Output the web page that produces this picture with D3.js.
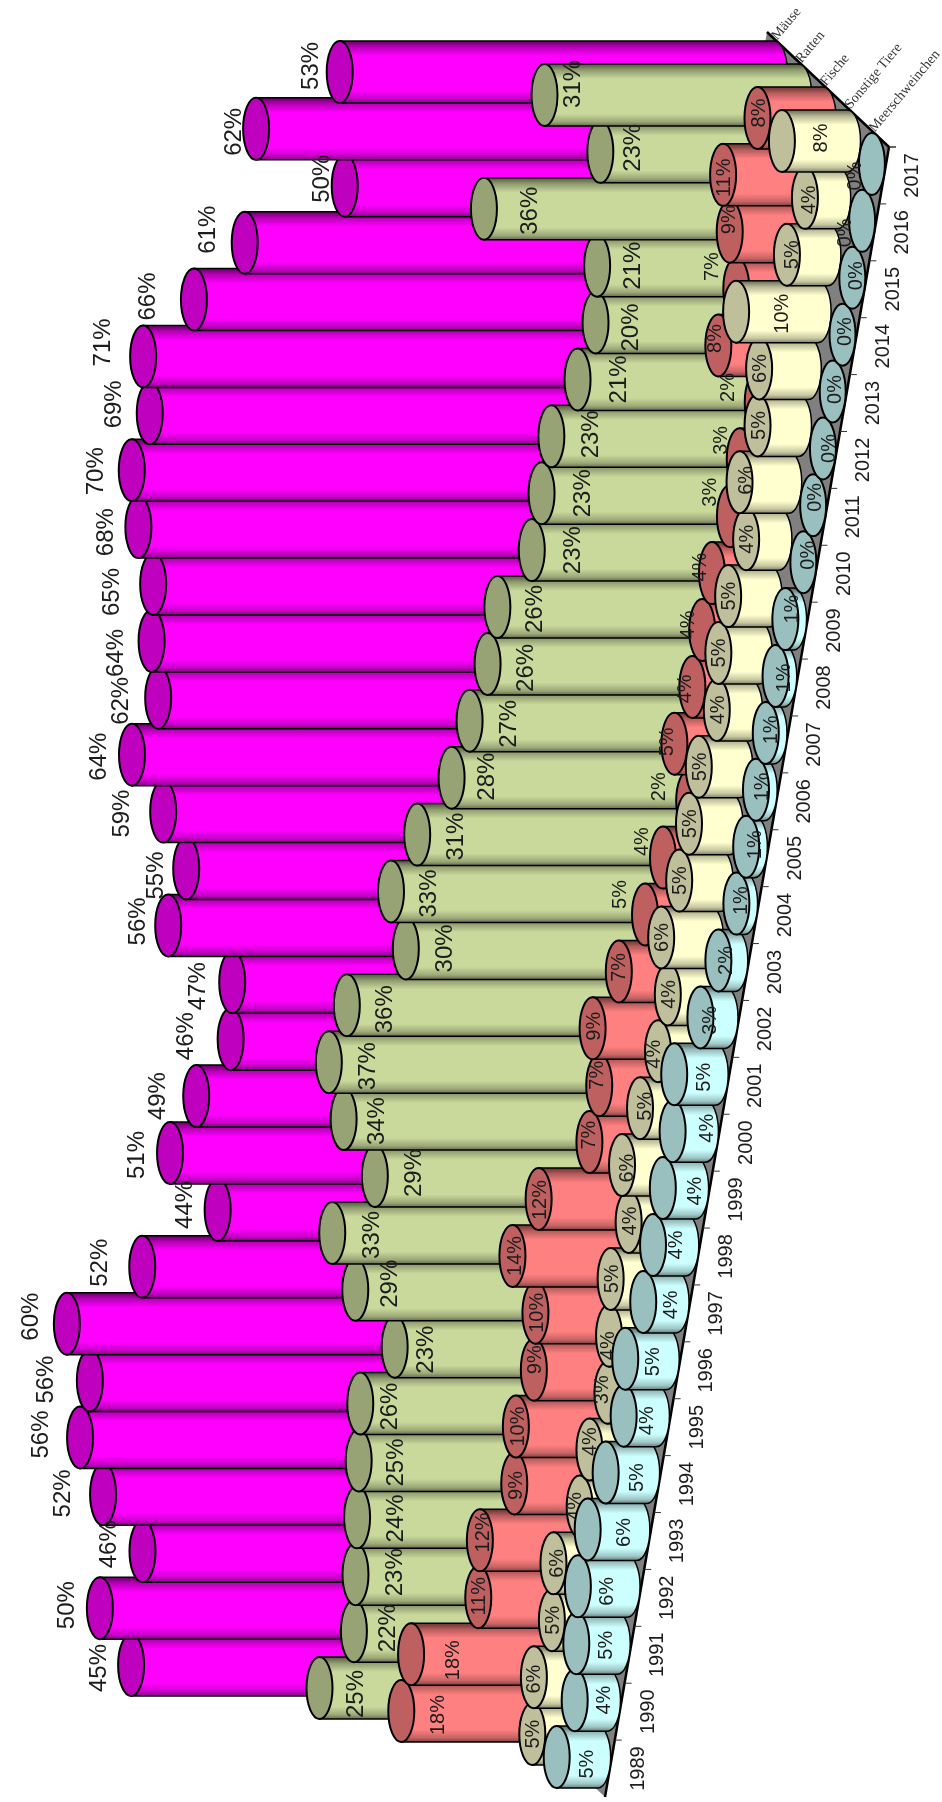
<!DOCTYPE html>
<html>
<head>
<meta charset="utf-8">
<script src="https://cdn.jsdelivr.net/npm/d3@7/dist/d3.min.js"></script>
<style>
    body { margin: 0; background: #fff; }
    text { font-family: "Liberation Sans", Arial, sans-serif; fill: #1c1c1c; }
</style>
</head>
<body>
<svg id="chart" width="942" height="1802"></svg>
<script>
const years = d3.range(1989, 2018).map(String);
const seriesNames = ["Mäuse", "Ratten", "Fische", "Sonstige Tiere", "Meerschweinchen"];

const maeuse = [45, 50, 46, 52, 56, 56, 60, 52, 44, 51, 49, 46, 47, 56, 55, 59, 64, 62, 64, 65, 68, 70, 69, 71, 66, 61, 50, 62, 53];
const ratten = [25, 22, 23, 24, 25, 26, 23, 29, 33, 29, 34, 37, 36, 30, 33, 31, 28, 27, 26, 26, 23, 23, 23, 21, 20, 21, 36, 23, 31];
const fische = [18, 18, 11, 12, 9, 10, 9, 10, 14, 12, 7, 7, 9, 7, 5, 4, 2, 5, 4, 4, 4, 3, 3, 2, 8, 7, 9, 11, 8];
const sonstige = [5, 6, 5, 6, 4, 4, 3, 4, 5, 4, 6, 5, 4, 4, 6, 5, 5, 5, 4, 5, 5, 4, 6, 5, 6, 10, 5, 4, 8];
const meerschweinchen = [5, 4, 5, 6, 6, 5, 4, 5, 4, 4, 4, 4, 5, 3, 2, 1, 1, 1, 1, 1, 1, 0, 0, 0, 0, 0, 0, 0, 0];

const seriesValues = [maeuse, ratten, fische, sonstige, meerschweinchen];
const seriesColors = ["#ff00ff", "#c9d99b", "#ff8080", "#ffffcf", "#ccffff"];

// the labels in the picture were placed by hand, so this is the shift from each cylinder end, per year
const labelDx = [
    [-34, -34, -35, -41, -40, -45, -37, -44, -34, -34, -40, -46, -36, -32, -32, -43, -34, -39, -37, -43, -34, -37, -37, -42, -47, -38, -24, -24, -30],
    [35, 33, 38, 38, 36, 28, 30, 33, 38, 38, 32, 38, 37, 38, 37, 37, 34, 38, 37, 36, 40, 40, 38, 40, 34, 34, 45, 31, 27],
    [36, 41, 0, 2, 1, 1, 0, 1, 2, 0, -1, -3, 0, -1, -26, -22, -31, -8, -8, -15, -13, -21, -20, -31, -4, -25, -2, 0, 0],
    [0, -1, 0, 3, -6, 0, -6, -2, 0, 0, 4, 4, -5, 0, 0, 0, 0, 0, 0, 0, 0, 0, 5, 0, 0, 45, 4, 3, 38],
    [29, 28, 29, 28, 35, 30, 22, 27, 27, 22, 31, 33, 29, 9, 7, 4, 8, 5, 4, 7, 6, 4, 1, 5, 1, 1, 3, -18, -18]
];
const labelDy = [
    [3, -3, -7, -1, -3, -1, -7, -4, -5, 2, 0, -3, 4, -4, 7, 2, 2, 3, 12, 8, 5, 1, -9, -14, -3, -13, -7, 3, -6],
    [6, -3, -2, 1, 2, 3, 3, -6, 2, -3, 2, 4, 4, 0, 2, 2, -1, 3, 4, 2, 0, 0, -2, 0, 5, 0, 2, -4, -11],
    [4, 6, -1, -8, 2, 0, -10, 0, 0, 1, -7, -10, -2, -4, -20, -16, -14, -2, 2, -5, -6, -24, -19, -15, -7, -22, -12, 3, -5],
    [0, 2, 0, 0, 0, -8, -3, 10, 0, -1, 3, -2, 3, 0, 0, 0, 0, 0, 0, 0, 0, 0, -2, 0, 0, 2, 0, 2, -3],
    [7, 0, 2, 5, 3, 5, 5, 3, 3, 0, 3, -3, 3, 3, 0, -3, -2, -3, -3, 2, -10, -7, -8, 0, -2, -3, -2, 12, 12]
];

const svg = d3.select("svg#chart");

const root = svg.append("g").attr("filter", "url(#soft)");

// the floor is a slanted plane, one edge runs along the years, the other one goes back through the series
const yearY = d3.scaleBand().domain(years).range([1797, 147]);
const edgeX = d3.scaleLinear().domain([1797, 147]).range([605, 889]);
const depth = d3.scaleBand().domain(seriesNames.slice().reverse()).range([0, 1]);
const depthDx = 122, depthDy = 115;
const valueLen = d3.scaleLinear().domain([0, 100]).range([0, 820]);

const rx = 13, ry = 31;

function basePoint(year, name) {
    const y = yearY(year) + yearY.bandwidth() / 2;
    const d = depth(name) + depth.bandwidth() / 2;
    return [edgeX(y) - d * depthDx, y - d * depthDy];
}

function darker(color, k) {
    const c = d3.rgb(color);
    return d3.rgb(c.r * k, c.g * k, c.b * k).formatHex();
}

const defs = svg.append("defs");

// the reference is a scaled bitmap, everything in it is a bit soft
defs.append("filter")
    .attr("id", "soft")
    .attr("filterUnits", "userSpaceOnUse")
    .attr("x", 0).attr("y", 0).attr("width", 942).attr("height", 1802)
    .append("feGaussianBlur")
        .attr("stdDeviation", 0.45);

// gradients for the cylinder walls
seriesNames.forEach((name, i) => {
    const grad = defs.append("linearGradient")
        .attr("id", "wall" + i)
        .attr("x1", 0).attr("y1", 0).attr("x2", 0).attr("y2", 1);
    [[0, 0.4], [0.1, 0.72], [0.24, 1], [0.8, 1], [0.93, 0.78], [1, 0.5]].forEach(([o, k]) => {
        grad.append("stop").attr("offset", o).attr("stop-color", darker(seriesColors[i], k));
    });
});

// floor
const corners = [
    [edgeX(1797), 1797],
    [edgeX(147), 147],
    [edgeX(147) - depthDx, 147 - depthDy],
    [edgeX(1797) - depthDx, 1797 - depthDy]
];
root.append("path")
    .attr("d", d3.line()(corners) + "Z")
    .attr("fill", "#808080");
root.append("path")
    .attr("d", d3.line()([corners[0], corners[1], corners[2]]))
    .attr("fill", "none")
    .attr("stroke", "#000")
    .attr("stroke-width", 2.5);

// year axis, built on a straight scale and then sheared along the floor edge
const axis = root.append("g")
    .call(d3.axisRight(yearY).tickSize(0))
    .call(g => g.select(".domain").remove());
axis.selectAll(".tick")
    .attr("transform", d => {
        const y = yearY(d) + yearY.bandwidth() / 2;
        return `translate(${edgeX(y) + 27},${y})`;
    });
axis.selectAll(".tick text")
    .attr("x", 0).attr("y", 0).attr("dy", "0.35em")
    .attr("transform", "rotate(-90)")
    .style("text-anchor", "middle")
    .style("font-size", "20px")
    .style("font-family", "'Liberation Sans', Arial, sans-serif");

root.append("g")
    .selectAll("line")
    .data(yearY.domain().map(d => yearY(d)).concat([147]))
    .join("line")
        .attr("x1", d => edgeX(d))
        .attr("y1", d => d)
        .attr("x2", d => edgeX(d) + 7)
        .attr("y2", d => d)
        .attr("stroke", "#333");

// series names along the back edge
root.append("g")
    .selectAll("text")
    .data(seriesNames)
    .join("text")
        .attr("transform", d => {
            const t = depth(d) + depth.bandwidth() / 2;
            return `translate(${edgeX(147) - t * depthDx - 2},${147 - t * depthDy - 3}) rotate(-50)`;
        })
        .style("font-family", "'Liberation Serif', 'Times New Roman', serif")
        .style("font-size", "14px")
        .style("fill", "#333")
        .text(d => d);

// back series first, inside a series the later years go on top
seriesNames.forEach((name, i) => {
    const rows = years.map((year, j) => ({ year, value: seriesValues[i][j], dx: labelDx[i][j], dy: labelDy[i][j] }));
    const g = root.append("g");

    const cyl = g.selectAll("g.cyl")
        .data(rows)
        .join("g")
            .attr("class", "cyl");

    cyl.filter(d => d.value > 0)
        .append("path")
            .attr("d", d => {
                const [bx, y] = basePoint(d.year, name);
                const cx = bx - valueLen(d.value);
                return `M${cx},${y - ry}L${bx},${y - ry}A${rx},${ry} 0 0 1 ${bx},${y + ry}L${cx},${y + ry}Z`;
            })
            .attr("fill", `url(#wall${i})`)
            .attr("stroke", "#000")
            .attr("stroke-width", 1.5);

    cyl.append("ellipse")
        .attr("cx", d => basePoint(d.year, name)[0] - valueLen(d.value))
        .attr("cy", d => basePoint(d.year, name)[1])
        .attr("rx", rx)
        .attr("ry", ry)
        .attr("fill", darker(seriesColors[i], 0.75))
        .attr("stroke", "#000")
        .attr("stroke-width", 2);

    g.selectAll("text")
        .data(rows)
        .join("text")
            .attr("transform", d => {
                const [bx, y] = basePoint(d.year, name);
                return `translate(${bx - valueLen(d.value) + d.dx},${y + d.dy}) rotate(-90)`;
            })
            .attr("dy", "0.35em")
            .style("text-anchor", "middle")
            .style("font-size", i < 2 ? "24px" : "20px")
            .text(d => d.value + "%");
});
</script>
</body>
</html>
